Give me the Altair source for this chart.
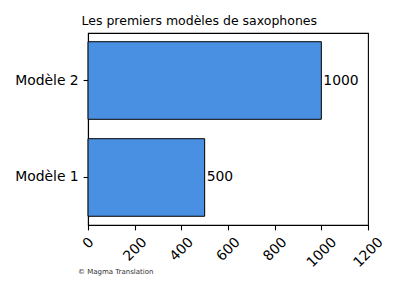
import altair as alt
import pandas as pd

models = ["Modèle 1", "Modèle 2"]
counts = [500, 1000]
x_ticks = [0, 200, 400, 600, 800, 1000, 1200]
title_text = "Les premiers modèles de saxophones"
footer_text = "© Magma Translation"

df = pd.DataFrame({"model": models, "count": counts})
order = ["Modèle 2", "Modèle 1"]
FONT = "DejaVu Sans"

y_enc = alt.Y(
    "model:N",
    sort=order,
    title=None,
    scale=alt.Scale(paddingInner=0.2, paddingOuter=0.09),
    axis=alt.Axis(
        labelFont=FONT, labelFontSize=13.9, labelColor="black",
        tickColor="black", tickSize=4.9, tickWidth=1.1, labelPadding=4.9,
        domainColor="black", domainWidth=1.1,
    ),
)
x_enc = alt.X(
    "count:Q",
    title=None,
    scale=alt.Scale(domain=[0, 1200], nice=False),
    axis=alt.Axis(
        values=x_ticks, format="d", grid=False, labelAngle=-45, labelAlign="right",
        labelBaseline="top", labelFont=FONT, labelFontSize=13.9,
        labelColor="black", tickColor="black", tickSize=4.9, tickWidth=1.1,
        labelPadding=4.9, domainColor="black", domainWidth=1.1,
        labelOverlap=False, labelFlush=False,
        labelOffset={
            "condition": [
                {"test": "datum.value < 100", "value": -1.8},
                {"test": "datum.value < 900", "value": 4.5},
            ],
            "value": 7.6,
        },
    ),
)

bars = alt.Chart(df).mark_bar(
    color="#4a90e2", stroke="black", strokeWidth=1
).encode(x=x_enc, y=y_enc)

labels = alt.Chart(df).mark_text(
    align="left", baseline="middle", dx=2, font=FONT, fontSize=13.9, color="black"
).encode(x="count:Q", y=alt.Y("model:N", sort=order), text=alt.Text("count:Q", format="d"))

footer = alt.Chart(pd.DataFrame({"t": [footer_text]})).mark_text(
    align="left", baseline="alphabetic", font=FONT, fontSize=7, color="#333333"
).encode(x=alt.value(-10), y=alt.value(241), text="t:N")

chart = alt.layer(bars, labels, footer).properties(
    width=280,
    height=192,
    padding={"left": 88, "top": 33, "right": 32, "bottom": 75},
    autosize="none",
    title=alt.TitleParams(
        text=title_text, anchor="start", frame="group", font=FONT,
        fontSize=12.5, fontWeight="normal", color="black", dx=-6.5,
        baseline="alphabetic", offset=-4,
    ),
).configure_view(stroke="black", strokeWidth=1.1)

chart.save("out.html", embed_options={"renderer": "svg", "actions": False})
